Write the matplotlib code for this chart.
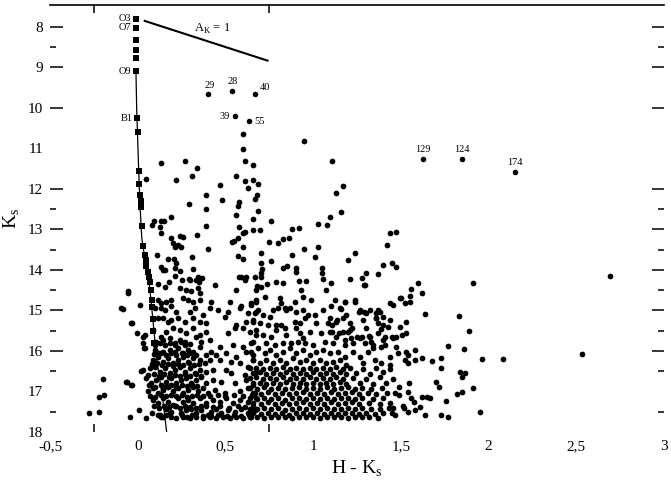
import matplotlib
matplotlib.use("Agg")
import matplotlib.pyplot as plt

plt.rcParams['font.family'] = ['Liberation Serif', 'DejaVu Serif']

# ZAMS calibration points (H-K, Ks)
zams_sq_hk = [-0.01, -0.01, -0.01, -0.01, -0.01, -0.01, -0.004, 0.0,
              0.006, 0.006, 0.011, 0.017, 0.017, 0.023, 0.03, 0.04, 0.046, 0.05,
              0.057, 0.063, 0.068, 0.074, 0.08, 0.08, 0.085, 0.088, 0.09]
zams_sq_ks = [7.8, 8.02, 8.32, 8.57, 8.77, 9.09, 10.25, 10.59,
              11.56, 11.88, 12.15, 12.3, 12.44, 12.91, 13.41, 13.63, 13.75, 13.9,
              14.05, 14.17, 14.3, 14.5, 14.74, 14.91, 15.2, 15.5, 15.8]
zams_sq_names = {0: 'O3', 1: 'O7', 5: 'O9', 6: 'B1'}

zams_line_hk = [-0.01, -0.006, 0.0, 0.006, 0.013, 0.023, 0.04, 0.063, 0.086, 0.108, 0.143, 0.165]
zams_line_ks = [9.09, 10.0, 10.8, 11.6, 12.4, 13.2, 13.7, 14.2, 15.2, 16.2, 17.2, 18.0]

# reddening vector A_K = 1
red_hk = [0.04, 0.74]
red_ks = [7.85, 8.83]

# numbered stars
named_hk = [0.40, 0.54, 0.667, 0.553, 0.633, 1.625, 1.85, 2.15]
named_ks = [9.65, 9.57, 9.65, 10.21, 10.33, 11.27, 11.27, 11.59]
named_lbl = ['29', '28', '40', '39', '55', '129', '124', '174']

upper = [(0.60, 10.65), (0.946, 10.81), (0.60, 11.02), (0.13, 11.35), (0.27, 11.31), (0.34, 11.48),
         (0.61, 11.31), (0.655, 11.40), (1.105, 11.31), (0.045, 11.75), (0.217, 11.78), (0.31, 11.67),
         (0.56, 11.67), (0.61, 11.80), (0.66, 11.78), (0.685, 11.88), (0.47, 11.90), (0.63, 11.97),
         (1.17, 11.93), (1.13, 12.10), (0.39, 12.15), (0.68, 12.15), (0.67, 12.25), (0.48, 12.27),
         (0.29, 12.37), (0.58, 12.32), (0.57, 12.42), (0.39, 12.49), (0.685, 12.54), (1.16, 12.57),
         (0.56, 12.64), (0.19, 12.69), (1.095, 12.69), (0.09, 12.79), (0.13, 12.79), (0.15, 12.80),
         (0.08, 12.89), (0.125, 12.94), (0.39, 12.91), (0.66, 12.74), (0.58, 12.94), (0.61, 13.06),
         (0.66, 13.01), (0.695, 13.01), (0.76, 12.79), (0.88, 12.99), (0.92, 12.96), (1.03, 12.86),
         (1.08, 12.89), (0.86, 13.2), (0.13, 13.09), (0.19, 13.21), (0.24, 13.16), (0.26, 13.19),
         (0.34, 13.14), (0.57, 13.21), (0.60, 13.09), (1.44, 13.09), (1.475, 13.06)]

mid = [(0.75, 13.30), (0.80, 13.33), (0.83, 13.23), (1.42, 13.38), (0.946, 13.48), (1.03, 13.43),
       (0.705, 13.58), (0.88, 13.63), (1.01, 13.68), (1.24, 13.58), (1.20, 13.75), (0.705, 13.83),
       (0.76, 13.78), (0.85, 13.90), (0.83, 13.95), (0.905, 13.95), (0.90, 14.05), (1.05, 13.95),
       (1.05, 14.07), (0.71, 13.98), (0.70, 14.07), (0.67, 14.17), (1.40, 13.88), (1.37, 14.10),
       (1.45, 13.83), (1.47, 13.93), (1.30, 14.07), (1.28, 14.20), (1.21, 14.22), (1.055, 14.22),
       (1.10, 14.32), (1.29, 14.37), (0.68, 14.40), (0.735, 14.35), (0.79, 14.30), (0.83, 14.32),
       (0.92, 14.28), (0.96, 14.28), (0.20, 13.33), (0.215, 13.43), (0.245, 13.43), (0.40, 13.48),
       (0.11, 13.63), (0.17, 13.73), (0.205, 13.73), (0.31, 13.68), (0.13, 13.93), (0.155, 14.0),
       (0.21, 13.95), (0.24, 14.03), (0.315, 13.98), (0.215, 14.15), (0.29, 14.22), (0.255, 14.25),
       (0.345, 14.17), (0.33, 14.25), (0.18, 14.3), (0.115, 14.35), (0.547, 13.28), (0.60, 13.43),
       (0.57, 13.65), (0.60, 13.73), (0.575, 14.17), (0.615, 14.17), (0.23, 13.38), (0.54, 13.3),
       (0.22, 13.83), (0.145, 14.0), (0.30, 14.25), (0.35, 14.3), (0.365, 14.2), (0.59, 14.17),
       (0.61, 14.25), (0.705, 14.17), (1.60, 14.32), (1.91, 14.32), (2.69, 14.15)]

blue_edge = [(-0.057, 14.57), (-0.086, 14.96), (0.011, 14.86), (-0.035, 15.31), (-0.006, 15.56),
             (0.028, 15.65), (0.034, 15.93), (0.028, 16.47), (-0.063, 16.77), (-0.035, 16.84),
             (-0.20, 16.69), (-0.22, 17.14), (-0.19, 17.09), (-0.28, 17.54), (-0.22, 17.5),
             (-0.046, 17.63), (0.006, 17.46), (0.05, 17.65), (0.125, 17.58), (0.08, 17.53)]

red_tail = [(1.56, 14.47), (1.55, 14.64), (1.55, 14.79), (1.62, 14.57), (1.50, 14.69), (1.455, 14.86),
            (1.18, 14.79), (1.24, 14.79), (1.16, 14.96), (1.64, 15.09), (1.83, 15.14), (1.89, 15.51),
            (1.77, 15.88), (1.86, 15.95), (1.96, 16.2), (2.08, 16.2), (2.53, 16.07), (1.91, 16.91),
            (1.95, 17.5), (1.26, 15.04), (1.29, 15.04), (1.36, 15.06), (1.38, 15.04), (1.36, 15.19),
            (1.37, 15.31), (1.40, 15.36), (1.385, 15.46), (1.425, 15.41), (1.135, 15.23), (1.17, 15.19),
            (1.11, 15.36), (1.105, 15.53), (1.15, 15.56), (1.18, 15.73), (1.20, 15.53), (1.22, 15.43),
            (1.25, 15.65), (1.28, 15.65), (1.32, 15.63), (1.33, 15.78), (1.34, 15.93), (1.385, 15.9),
            (1.41, 15.65), (1.45, 15.65), (1.475, 15.66), (1.53, 16.02), (1.58, 15.98), (1.54, 16.1),
            (1.58, 16.22), (1.54, 16.3), (1.62, 16.17), (1.68, 16.25), (1.73, 16.17), (1.73, 16.42),
            (1.835, 16.52), (1.85, 16.64), (1.865, 16.54), (1.70, 16.77), (1.72, 16.89), (1.82, 17.06),
            (1.85, 17.01), (1.755, 17.23), (1.65, 17.14), (1.665, 17.16), (1.62, 17.14), (1.77, 17.63),
            (1.73, 17.58), (1.64, 17.58), (1.58, 17.46), (1.54, 17.5), (1.575, 17.26), (1.61, 17.38),
            (1.545, 16.79), (1.49, 16.89), (1.49, 17.09), (1.465, 17.04), (1.54, 17.01), (1.56, 17.16),
            (1.51, 17.36), (1.52, 17.41), (1.455, 17.41), (1.45, 17.53), (1.40, 17.53), (1.465, 17.58)]

dense_left = [(-0.055, 14.53), (0.154, 14.41), (0.24, 14.45), (0.274, 14.49), (0.306, 14.53),
              (0.344, 14.45), (0.353, 14.58), (0.439, 14.37), (0.563, 14.49), (0.677, 14.49),
              (-0.093, 14.95), (0.116, 14.74), (0.135, 14.82), (0.163, 14.78), (0.192, 14.74),
              (0.258, 14.7), (0.287, 14.74), (0.315, 14.78), (0.353, 14.74), (0.42, 14.78), (0.458, 14.99),
              (0.525, 14.78), (0.591, 14.9), (0.648, 14.82), (0.677, 14.74),
              (0.097, 14.95), (0.135, 14.95), (0.154, 14.99), (0.192, 14.9), (0.22, 15.03), (0.296, 15.03),
              (0.325, 14.95), (0.372, 15.11), (0.41, 14.95), (0.515, 15.03), (0.582, 14.95), (0.629, 15.07),
              (0.677, 15.03),
              (-0.036, 15.32), (0.116, 15.19), (0.144, 15.19), (0.173, 15.28), (0.192, 15.23), (0.23, 15.19),
              (0.268, 15.28), (0.315, 15.19), (0.353, 15.28), (0.391, 15.32), (0.496, 15.15), (0.563, 15.36),
              (0.62, 15.28), (0.658, 15.23),
              (0.04, 15.6), (0.087, 15.48), (0.135, 15.65), (0.163, 15.52), (0.201, 15.44), (0.24, 15.48),
              (0.277, 15.56), (0.315, 15.44), (0.353, 15.6), (0.391, 15.52), (0.515, 15.56), (0.553, 15.44),
              (0.6, 15.44), (0.639, 15.52), (0.677, 15.6),
              (0.03, 15.81), (0.106, 15.77), (0.144, 15.73), (0.182, 15.69), (0.211, 15.81), (0.24, 15.73),
              (0.268, 15.77), (0.334, 15.65), (0.363, 15.77), (0.41, 15.73), (0.467, 15.89), (0.544, 15.85),
              (0.6, 15.89), (0.648, 15.81),
              (0.04, 15.93), (0.097, 15.97), (0.116, 16.06), (0.144, 16.02), (0.182, 15.97), (0.211, 16.02),
              (0.23, 15.93), (0.258, 16.06), (0.287, 15.97), (0.315, 16.02), (0.353, 15.89), (0.391, 16.1),
              (0.42, 16.02), (0.449, 16.1), (0.506, 16.06), (0.563, 16.14), (0.62, 16.02), (0.658, 16.1),
              (0.087, 16.22), (0.116, 16.14), (0.144, 16.26), (0.173, 16.18), (0.201, 16.3), (0.23, 16.22),
              (0.258, 16.14), (0.287, 16.26), (0.315, 16.18), (0.353, 16.22), (0.382, 16.3), (0.41, 16.22),
              (0.467, 16.22), (0.534, 16.26), (0.582, 16.3), (0.629, 16.39), (0.658, 16.22),
              (0.021, 16.49), (0.068, 16.43), (0.097, 16.39), (0.125, 16.51), (0.154, 16.43), (0.182, 16.55),
              (0.211, 16.47), (0.24, 16.39), (0.268, 16.51), (0.296, 16.43), (0.325, 16.55), (0.353, 16.47),
              (0.391, 16.51), (0.429, 16.47), (0.506, 16.47), (0.534, 16.55), (0.61, 16.59), (0.677, 16.51),
              (-0.065, 16.76), (-0.036, 16.84), (0.049, 16.67), (0.078, 16.8), (0.106, 16.72), (0.135, 16.63),
              (0.163, 16.76), (0.192, 16.67), (0.22, 16.8), (0.249, 16.72), (0.277, 16.67), (0.306, 16.8),
              (0.334, 16.72), (0.363, 16.63), (0.391, 16.8), (0.429, 16.72), (0.477, 16.76), (0.553, 16.8),
              (0.62, 16.72), (0.658, 16.84),
              (0.059, 17.0), (0.087, 16.92), (0.116, 17.04), (0.144, 16.96), (0.173, 16.88), (0.201, 17.0),
              (0.23, 16.92), (0.258, 17.04), (0.287, 16.96), (0.315, 16.88), (0.344, 17.0), (0.372, 16.92),
              (0.401, 17.04), (0.439, 16.96), (0.496, 17.04), (0.582, 17.0), (0.629, 16.92), (0.667, 17.04),
              (0.087, 17.21), (0.116, 17.29), (0.144, 17.17), (0.173, 17.25), (0.201, 17.33), (0.23, 17.17),
              (0.258, 17.25), (0.287, 17.21), (0.315, 17.29), (0.353, 17.17), (0.391, 17.29), (0.429, 17.21),
              (0.467, 17.25), (0.506, 17.17), (0.544, 17.29), (0.582, 17.21), (0.629, 17.25), (0.677, 17.17),
              (0.163, 17.42), (0.192, 17.5), (0.22, 17.37), (0.249, 17.54), (0.277, 17.46), (0.306, 17.42),
              (0.334, 17.54), (0.363, 17.46), (0.391, 17.37), (0.42, 17.5), (0.449, 17.42), (0.477, 17.54),
              (0.515, 17.46), (0.553, 17.5), (0.591, 17.42), (0.629, 17.54), (0.667, 17.46),
              (0.116, 17.58), (0.144, 17.62), (0.182, 17.54), (0.22, 17.66), (0.258, 17.62), (0.296, 17.66),
              (0.334, 17.62), (0.372, 17.66), (0.41, 17.62), (0.449, 17.66), (0.487, 17.62), (0.525, 17.66),
              (0.563, 17.62), (0.6, 17.66), (0.648, 17.62)]

core_left = [(0.10, 15.84), (0.125, 15.80), (0.155, 15.86), (0.185, 15.81), (0.215, 15.85), (0.245, 15.79),
             (0.27, 15.86), (0.30, 15.82),
             (0.095, 16.08), (0.13, 16.05), (0.16, 16.10), (0.19, 16.06), (0.22, 16.11), (0.25, 16.04),
             (0.28, 16.09), (0.305, 16.06), (0.335, 16.1),
             (0.08, 16.33), (0.11, 16.30), (0.14, 16.35), (0.17, 16.31), (0.20, 16.36), (0.23, 16.32),
             (0.26, 16.35), (0.29, 16.30), (0.32, 16.34), (0.35, 16.31),
             (0.06, 16.60), (0.09, 16.57), (0.12, 16.62), (0.15, 16.58), (0.18, 16.63), (0.21, 16.59),
             (0.24, 16.61), (0.27, 16.57), (0.30, 16.62), (0.33, 16.58), (0.36, 16.61),
             (0.065, 16.85), (0.10, 16.88), (0.13, 16.84), (0.16, 16.87), (0.19, 16.83), (0.22, 16.88),
             (0.25, 16.85), (0.28, 16.87), (0.31, 16.83), (0.34, 16.86),
             (0.07, 17.10), (0.10, 17.13), (0.13, 17.09), (0.16, 17.12), (0.19, 17.08), (0.22, 17.11),
             (0.25, 17.09), (0.28, 17.13), (0.31, 17.10), (0.34, 17.08), (0.37, 17.12),
             (0.09, 17.37), (0.12, 17.40), (0.15, 17.35), (0.18, 17.39), (0.21, 17.36), (0.24, 17.40),
             (0.27, 17.35), (0.30, 17.38), (0.33, 17.41), (0.36, 17.36),
             (0.13, 17.62), (0.16, 17.58), (0.19, 17.63), (0.25, 17.59), (0.28, 17.64), (0.31, 17.58),
             (0.37, 17.61), (0.40, 17.57)]

low_left_extra = [(0.41, 17.10), (0.455, 17.08), (0.50, 17.12), (0.55, 17.09), (0.60, 17.11), (0.65, 17.08),
                  (0.43, 17.38), (0.47, 17.35), (0.52, 17.40), (0.57, 17.36), (0.61, 17.39), (0.66, 17.35),
                  (0.42, 17.60), (0.46, 17.58), (0.51, 17.61), (0.55, 17.57), (0.59, 17.60), (0.635, 17.58)]

dense_mid = [(0.705, 14.41), (0.724, 14.66), (0.677, 14.78), (0.648, 14.86), (0.81, 14.7), (0.819, 14.82),
             (0.838, 14.95), (0.895, 14.78), (0.933, 14.49), (0.943, 14.66), (0.99, 14.74), (1.076, 14.49),
             (1.123, 14.74), (1.18, 14.78), (1.237, 14.74), (1.294, 14.37), (1.304, 15.07), (1.37, 14.99),
             (1.437, 14.82), (1.494, 14.7), (1.522, 14.82),
             (0.667, 15.07), (0.686, 14.99), (0.715, 15.11), (0.753, 15.15), (0.772, 14.99), (0.8, 14.95),
             (0.848, 14.99), (0.867, 14.95), (0.905, 15.03), (0.943, 14.99), (0.971, 15.11), (1.009, 15.11),
             (1.057, 14.99), (1.104, 14.9), (1.133, 15.28), (1.152, 14.95), (1.19, 15.11), (1.266, 14.99),
             (1.323, 14.99), (1.361, 15.19), (1.399, 15.15), (1.437, 15.23), (1.494, 15.4), (1.532, 15.28),
             (0.658, 15.28), (0.696, 15.32), (0.743, 15.36), (0.79, 15.36), (0.819, 15.36), (0.895, 15.28),
             (0.924, 15.32), (0.952, 15.19), (1.019, 15.32), (1.085, 15.32), (1.209, 15.32), (1.285, 15.23),
             (1.095, 15.19),
             (0.677, 15.48), (0.715, 15.6), (0.762, 15.65), (0.79, 15.48), (0.838, 15.44), (0.848, 15.6),
             (0.905, 15.44), (0.924, 15.56), (0.943, 15.69), (0.981, 15.52), (1.047, 15.56), (1.095, 15.52),
             (1.133, 15.65), (1.171, 15.52), (1.209, 15.48), (1.218, 15.69), (1.266, 15.69), (1.304, 15.44),
             (1.323, 15.65), (1.37, 15.56), (1.399, 15.73), (1.456, 15.69), (1.504, 15.6), (1.532, 15.56),
             (0.658, 15.77), (0.734, 15.81), (0.781, 15.85), (0.829, 15.81), (0.876, 15.81), (0.914, 15.77),
             (0.952, 15.81), (1.0, 15.85), (1.066, 15.77), (1.114, 15.81), (1.18, 15.85), (1.228, 15.81),
             (1.294, 15.81), (1.342, 15.85), (1.409, 15.85), (1.475, 15.89),
             (0.648, 16.02), (0.686, 15.93), (0.724, 16.06), (0.753, 15.97), (0.79, 16.1), (0.829, 16.02),
             (0.867, 15.93), (0.905, 16.06), (0.943, 15.97), (0.981, 16.1), (1.019, 16.02), (1.057, 15.97),
             (1.095, 16.06), (1.142, 16.02), (1.18, 16.14), (1.228, 16.02), (1.266, 16.14), (1.313, 16.02),
             (1.351, 16.22), (1.389, 16.3), (1.437, 16.14), (1.485, 16.06), (1.522, 16.22),
             (0.658, 16.22), (0.696, 16.3), (0.734, 16.22), (0.772, 16.3), (0.81, 16.22), (0.848, 16.3),
             (0.886, 16.18), (0.924, 16.26), (0.962, 16.22), (1.0, 16.3), (1.038, 16.22), (1.076, 16.3),
             (1.114, 16.26), (1.152, 16.22), (1.19, 16.35), (1.285, 16.3), (1.437, 16.35)]

mid_rows = [(0.639, 16.43), (0.677, 16.41), (0.715, 16.45), (0.753, 16.42), (0.791, 16.44), (0.829, 16.40),
            (0.867, 16.45), (0.905, 16.42), (0.943, 16.44), (0.981, 16.41), (1.019, 16.45), (1.057, 16.42),
            (1.095, 16.44), (1.133, 16.40), (1.171, 16.45), (1.209, 16.42), (1.285, 16.44), (1.361, 16.41),
            (1.437, 16.45),
            (0.658, 16.55), (0.696, 16.53), (0.734, 16.57), (0.772, 16.54), (0.81, 16.56), (0.848, 16.52),
            (0.886, 16.57), (0.924, 16.54), (0.962, 16.56), (1.0, 16.53), (1.038, 16.57), (1.076, 16.54),
            (1.114, 16.56), (1.152, 16.52), (1.19, 16.57), (1.247, 16.54), (1.323, 16.56), (1.399, 16.53),
            (0.639, 16.67), (0.677, 16.65), (0.715, 16.69), (0.753, 16.66), (0.791, 16.68), (0.829, 16.64),
            (0.867, 16.69), (0.905, 16.66), (0.943, 16.68), (0.981, 16.65), (1.019, 16.69), (1.057, 16.66),
            (1.095, 16.68), (1.133, 16.64), (1.171, 16.69), (1.228, 16.66), (1.304, 16.68), (1.38, 16.65),
            (1.456, 16.69),
            (0.658, 16.80), (0.696, 16.78), (0.734, 16.82), (0.772, 16.79), (0.81, 16.81), (0.848, 16.77),
            (0.886, 16.82), (0.924, 16.79), (0.962, 16.81), (1.0, 16.78), (1.038, 16.82), (1.076, 16.79),
            (1.114, 16.81), (1.152, 16.77), (1.19, 16.82), (1.266, 16.79), (1.342, 16.81), (1.418, 16.78)]

bottom_rows = [(0.64, 16.92), (0.68, 16.94), (0.72, 16.90), (0.76, 16.93), (0.80, 16.91), (0.84, 16.95),
               (0.88, 16.92), (0.92, 16.90), (0.96, 16.94), (1.00, 16.91), (1.04, 16.93), (1.08, 16.90),
               (1.12, 16.94), (1.16, 16.92), (1.20, 16.90), (1.24, 16.93), (1.28, 16.91), (1.33, 16.94),
               (1.39, 16.92),
               (0.66, 17.04), (0.70, 17.06), (0.74, 17.02), (0.78, 17.05), (0.82, 17.03), (0.86, 17.07),
               (0.90, 17.04), (0.94, 17.02), (0.98, 17.06), (1.02, 17.03), (1.06, 17.05), (1.10, 17.02),
               (1.14, 17.06), (1.18, 17.04), (1.22, 17.02), (1.26, 17.05), (1.31, 17.03), (1.36, 17.06),
               (1.42, 17.04),
               (0.64, 17.17), (0.68, 17.19), (0.72, 17.15), (0.76, 17.18), (0.80, 17.16), (0.84, 17.20),
               (0.88, 17.17), (0.92, 17.15), (0.96, 17.19), (1.00, 17.16), (1.04, 17.18), (1.08, 17.15),
               (1.12, 17.19), (1.16, 17.17), (1.20, 17.15), (1.24, 17.18), (1.28, 17.16), (1.34, 17.19),
               (1.40, 17.17),
               (0.66, 17.29), (0.70, 17.31), (0.74, 17.27), (0.78, 17.30), (0.82, 17.28), (0.86, 17.32),
               (0.90, 17.29), (0.94, 17.27), (0.98, 17.31), (1.02, 17.28), (1.06, 17.30), (1.10, 17.27),
               (1.14, 17.31), (1.18, 17.29), (1.22, 17.27), (1.26, 17.30), (1.32, 17.28), (1.38, 17.31),
               (1.44, 17.29),
               (0.64, 17.42), (0.68, 17.44), (0.72, 17.40), (0.76, 17.43), (0.80, 17.41), (0.84, 17.45),
               (0.88, 17.42), (0.92, 17.40), (0.96, 17.44), (1.00, 17.41), (1.04, 17.43), (1.08, 17.40),
               (1.12, 17.44), (1.16, 17.42), (1.20, 17.40), (1.24, 17.43), (1.28, 17.41), (1.33, 17.44),
               (1.38, 17.42), (1.43, 17.40),
               (0.66, 17.54), (0.70, 17.56), (0.74, 17.52), (0.78, 17.55), (0.82, 17.53), (0.86, 17.57),
               (0.90, 17.54), (0.94, 17.52), (0.98, 17.56), (1.02, 17.53), (1.06, 17.55), (1.10, 17.52),
               (1.14, 17.56), (1.18, 17.54), (1.22, 17.52), (1.26, 17.55), (1.30, 17.53), (1.35, 17.56),
               (0.64, 17.64), (0.68, 17.62), (0.72, 17.65), (0.76, 17.63), (0.80, 17.64), (0.84, 17.62),
               (0.88, 17.65), (0.92, 17.63), (0.96, 17.64), (1.00, 17.62), (1.04, 17.65), (1.08, 17.63),
               (1.12, 17.64), (1.16, 17.62), (1.20, 17.65), (1.24, 17.63), (1.28, 17.64), (1.32, 17.62),
               (1.37, 17.65)]

clouds = [upper, mid, blue_edge, red_tail, dense_left, core_left, low_left_extra,
          dense_mid, mid_rows, bottom_rows]

xtick_vals = [-0.5, 0, 0.5, 1, 1.5, 2, 2.5, 3]
xtick_lbls = ['-0,5', '0', '0,5', '1', '1,5', '2', '2,5', '3']
xtick_marks = [-0.25, 0.75, 1.5, 2.5]
ytick_vals = [8, 9, 10, 11, 12, 13, 14, 15, 16, 17, 18]
ytick_minor = [8.5, 12.5, 13.5, 14.5, 15.5, 16.5, 17.5]

fig = plt.figure(figsize=(6.71, 4.82), dpi=100)
ax = fig.add_axes([50 / 671, 1 - 432 / 482, 614 / 671, 427 / 482])

for pts in clouds:
    ax.scatter([p[0] for p in pts], [p[1] for p in pts], s=17, c='black', marker='o',
               linewidths=0, zorder=3)

ax.plot(zams_line_hk, zams_line_ks, color='black', lw=0.9, zorder=2)
ax.scatter(zams_sq_hk, zams_sq_ks, s=22, c='black', marker='s', linewidths=0, zorder=4)
for i, name in zams_sq_names.items():
    ax.text(zams_sq_hk[i] - 0.025, zams_sq_ks[i], name, fontsize=7.5, ha='right', va='center')

ax.plot(red_hk, red_ks, color='black', lw=1.5)
ax.text(0.32, 8.05, 'A$_\\mathregular{K}$ = 1', fontsize=9, ha='left', va='center')

ax.scatter(named_hk, named_ks, s=16, c='black', linewidths=0, zorder=4)
offsets = {'29': (0.01, -0.2, 'center'), '28': (0.0, -0.22, 'center'), '40': (0.03, -0.16, 'left'),
           '39': (-0.03, 0.0, 'right'), '55': (0.03, 0.0, 'left'), '129': (0.0, -0.25, 'center'),
           '124': (0.0, -0.25, 'center'), '174': (0.0, -0.25, 'center')}
for hx, ky, lbl in zip(named_hk, named_ks, named_lbl):
    dx, dy, ha = offsets[lbl]
    ax.text(hx + dx, ky + dy, lbl, fontsize=7.5, ha=ha, va='center')

ax.set_xlim(-0.5, 3)
ax.set_ylim(18, 7.457)

for side in ['left', 'right', 'bottom']:
    ax.spines[side].set_visible(False)
ax.spines['top'].set_linewidth(1.2)

ax.set_xticks(xtick_vals)
ax.set_xticklabels(xtick_lbls)
ax.set_xticks(xtick_marks, minor=True)
ax.tick_params(axis='x', which='major', length=0, pad=6, labelsize=11)
ax.tick_params(axis='x', which='minor', direction='in', length=6, width=1.1, top=True, bottom=True)

ax.set_yticks(ytick_vals)
ax.set_yticks(ytick_minor, minor=True)
ax.tick_params(axis='y', which='major', direction='in', length=9, width=1.1, left=True, right=True,
               pad=5, labelsize=11)
ax.tick_params(axis='y', which='minor', direction='in', length=4.5, width=1.1, left=True, right=True)
for t, v in zip(ax.yaxis.get_major_ticks(), ytick_vals):
    if v in (11, 17, 18):
        t.tick1line.set_visible(False)
        t.tick2line.set_visible(False)

ax.set_xlabel('H - K$_\\mathregular{s}$', fontsize=14, labelpad=4)
ax.set_ylabel('K$_\\mathregular{s}$', fontsize=14, labelpad=4)

fig.savefig('out.png', dpi=100)
